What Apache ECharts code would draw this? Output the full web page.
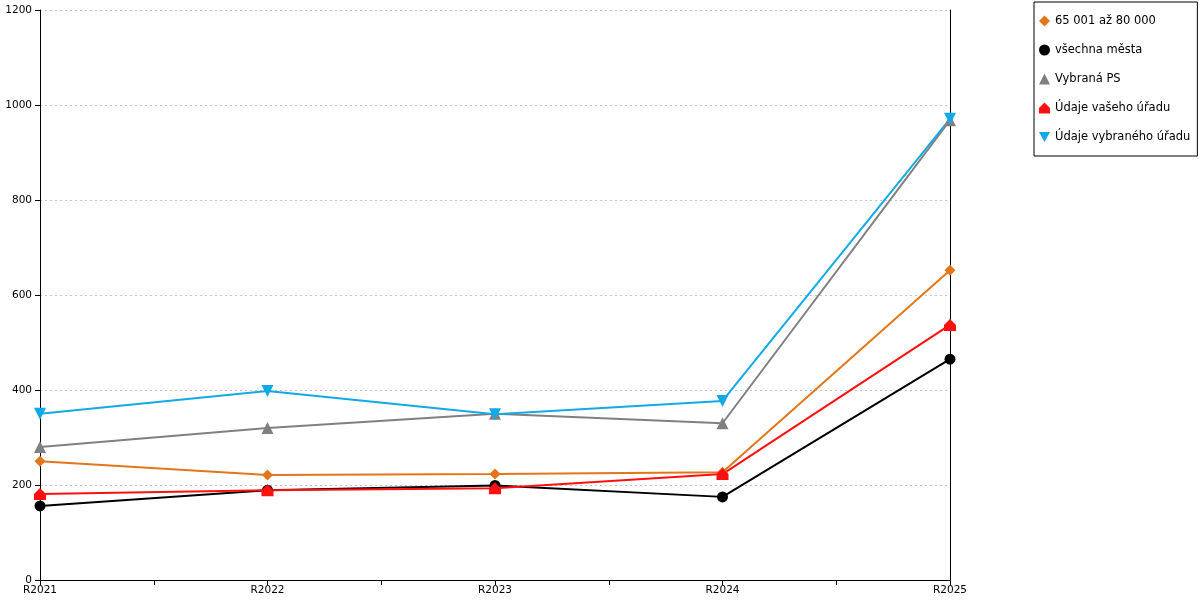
<!DOCTYPE html>
<html>
<head>
<meta charset="utf-8">
<script src="https://cdn.jsdelivr.net/npm/echarts@6/dist/echarts.min.js"></script>
<style>html,body{margin:0;padding:0;background:#fff;}#c{width:1200px;height:600px;}</style>
</head>
<body>
<div id="c"></div>
<script>
var categories = ['R2021', 'R2022', 'R2023', 'R2024', 'R2025'];
var yTicks = { min: 0, max: 1200, interval: 200 };
var orangeName = '65 001 až 80 000';
var orangeValues = [250, 221, 223, 227, 652];
var blackName = 'všechna města';
var blackValues = [156, 189, 199, 175, 465];
var grayName = 'Vybraná PS';
var grayValues = [280, 320, 350, 330, 968];
var redName = 'Údaje vašeho úřadu';
var redValues = [181, 189, 193, 223, 537];
var blueName = 'Údaje vybraného úřadu';
var blueValues = [350, 398, 349, 377, 971];

var FONT = 'DejaVu Sans';
var house = 'path://M0,5 L5,0 L10,5 L10,10 L0,10 Z';
var downTri = 'path://M0,0 L10,0 L5,9 Z';

function mk(name, data, color, symbol, size) {
  return {
    name: name, type: 'line', data: data,
    xAxisIndex: 0, yAxisIndex: 0,
    symbol: symbol, symbolSize: size,
    lineStyle: { color: color, width: 2 },
    itemStyle: { color: color },
    animation: false
  };
}

var chart = echarts.init(document.getElementById('c'), null, { renderer: 'canvas' });
chart.setOption({
  animation: false,
  textStyle: { fontFamily: FONT },
  grid: { left: 40, right: 250, top: 10, bottom: 20, containLabel: false },
  legend: {
    orient: 'vertical', left: 1034, top: 2,
    padding: [13, 7, 13, 5],
    itemGap: 17, itemWidth: 11, itemHeight: 11,
    borderColor: '#000', borderWidth: 1, borderRadius: 0,
    textStyle: { fontFamily: FONT, fontSize: 11.5, color: '#000' },
    data: [
      { name: orangeName, icon: 'diamond' },
      { name: blackName, icon: 'circle' },
      { name: grayName, icon: 'triangle' },
      { name: redName, icon: house },
      { name: blueName, icon: downTri }
    ]
  },
  xAxis: [
    {
      type: 'category', data: categories, boundaryGap: false,
      axisLine: { show: true, lineStyle: { color: '#000', width: 1 } },
      axisTick: { show: false },
      axisLabel: { color: '#000', fontSize: 10.5, fontFamily: FONT, margin: 5 },
      splitLine: { show: false }
    },
    {
      type: 'value', min: 0, max: (categories.length - 1) * 2, interval: 1,
      position: 'bottom',
      axisLine: { show: false },
      axisTick: { show: true, inside: false, length: 5, lineStyle: { color: '#000' } },
      axisLabel: { show: false },
      splitLine: { show: false }
    }
  ],
  yAxis: [
    {
      type: 'value', min: yTicks.min, max: yTicks.max, interval: yTicks.interval,
      axisLine: { show: true, lineStyle: { color: '#000', width: 1 } },
      axisTick: { show: true, inside: false, length: 5, lineStyle: { color: '#000' } },
      axisLabel: { color: '#000', fontSize: 10.5, fontFamily: FONT, margin: 8,
        formatter: function (v) { return String(v); } },
      splitLine: { show: true, lineStyle: { color: '#c4c4c4', type: [2, 3], width: 1 } }
    },
    {
      type: 'value', min: yTicks.min, max: yTicks.max, interval: yTicks.interval,
      position: 'right',
      axisLine: { show: true, lineStyle: { color: '#000', width: 1 } },
      axisTick: { show: false },
      axisLabel: { show: false },
      splitLine: { show: false }
    }
  ],
  series: [
    mk(orangeName, orangeValues, '#E3751A', 'diamond', 11),
    mk(blackName, blackValues, '#000000', 'circle', 11),
    mk(grayName, grayValues, '#808080', 'triangle', 12),
    mk(redName, redValues, '#FF1010', house, 12),
    mk(blueName, blueValues, '#12A9E6', downTri, 12)
  ]
});
</script>
</body>
</html>
